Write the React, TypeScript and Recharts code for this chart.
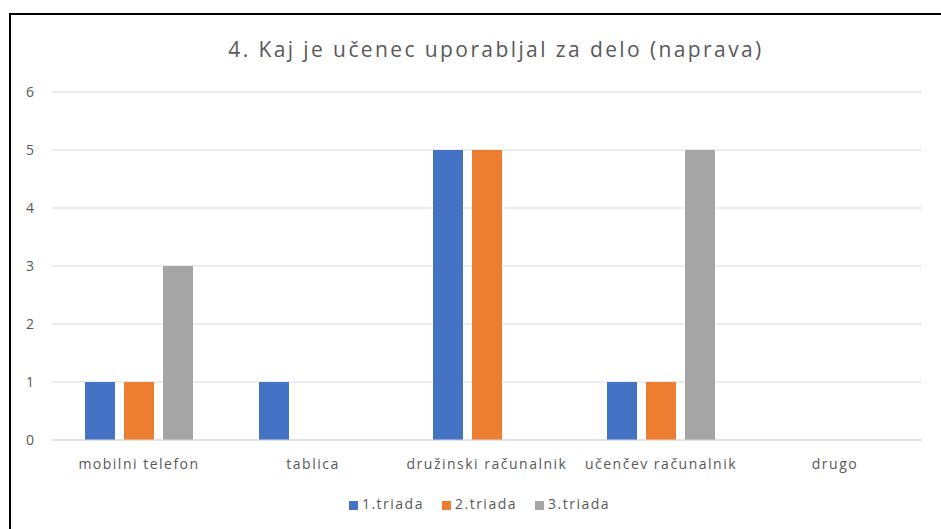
import { BarChart, Bar, XAxis, YAxis, CartesianGrid, Legend } from 'recharts';

const categories = ['mobilni telefon', 'tablica', 'družinski računalnik', 'učenčev računalnik', 'drugo'];
const triada1 = [1, 1, 5, 1, 0];
const triada2 = [1, 0, 5, 1, 0];
const triada3 = [3, 0, 0, 5, 0];
const yTicks = [0, 1, 2, 3, 4, 5, 6];

const data = categories.map((name, i) => ({
    name,
    t1: triada1[i],
    t2: triada2[i],
    t3: triada3[i],
}));

const FONT = '"Open Sans", "Noto Sans", sans-serif';
const TEXT = '#595959';

export default function App() {
    return (
        <div
            style={{
                position: 'absolute',
                left: 9,
                top: 13,
                width: 932,
                height: 516,
                boxSizing: 'border-box',
                borderLeft: '2px solid #000',
                borderTop: '2px solid #000',
                background: '#fff',
                overflow: 'hidden',
                fontFamily: FONT,
            }}
        >
            <div
                style={{
                    position: 'absolute',
                    left: 0,
                    width: 970,
                    top: 20,
                    textAlign: 'center',
                    fontSize: 21,
                    letterSpacing: 2.4,
                    color: TEXT,
                }}
            >
                4. Kaj je učenec uporabljal za delo (naprava)
            </div>
            <BarChart
                width={930}
                height={514}
                data={data}
                margin={{ top: 77, right: 19, left: 0, bottom: 16 }}
                barCategoryGap={33}
                barGap={9}
            >
                <CartesianGrid vertical={false} stroke="#D9D9D9" />
                <XAxis
                    dataKey="name"
                    tickLine={false}
                    axisLine={{ stroke: '#D9D9D9' }}
                    tick={{ fontSize: 14, fill: TEXT, fontFamily: FONT, letterSpacing: 1.5 }}
                    tickMargin={13}
                    height={54}
                />
                <YAxis
                    width={41}
                    domain={[0, 6]}
                    ticks={yTicks}
                    tickLine={false}
                    axisLine={false}
                    tickMargin={12}
                    tick={{ fontSize: 14, fill: TEXT, fontFamily: FONT }}
                />
                <Legend
                    iconType="square"
                    iconSize={9}
                    wrapperStyle={{ fontSize: 14, fontFamily: FONT, letterSpacing: 1.5, left: 22 }}
                    formatter={(value) => (
                        <span style={{ color: TEXT, paddingRight: 8 }}>{value}</span>
                    )}
                />
                <Bar dataKey="t1" name="1.triada" fill="#4472C4" isAnimationActive={false} />
                <Bar dataKey="t2" name="2.triada" fill="#ED7D31" isAnimationActive={false} />
                <Bar dataKey="t3" name="3.triada" fill="#A5A5A5" isAnimationActive={false} />
            </BarChart>
        </div>
    );
}
